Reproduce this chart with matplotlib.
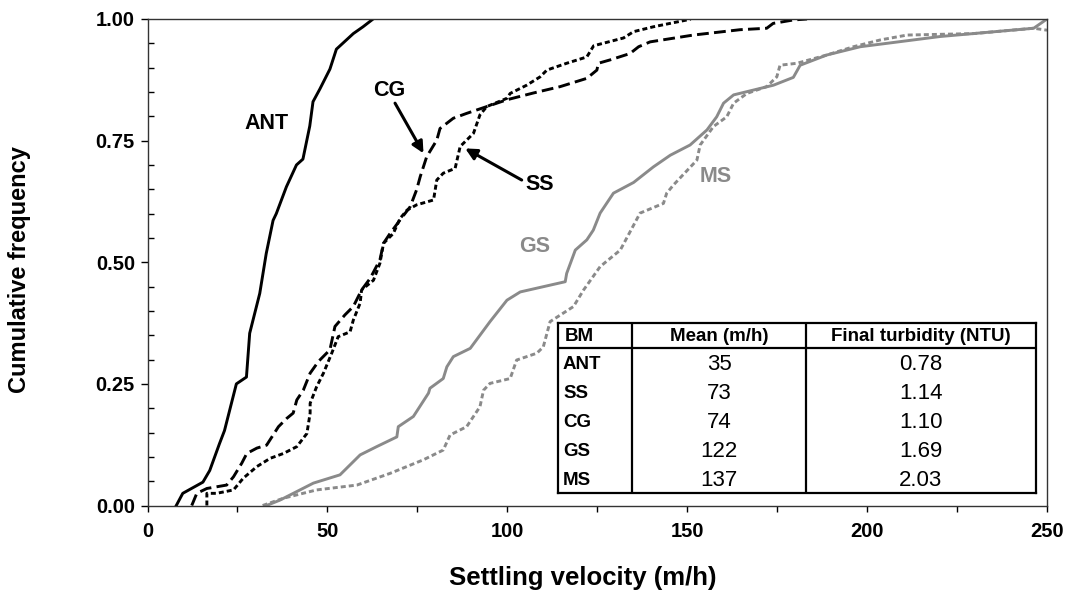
import matplotlib
matplotlib.use("Agg")
import matplotlib.pyplot as plt
from matplotlib.ticker import MultipleLocator, FormatStrFormatter

plt.rcParams['font.family'] = ['Liberation Sans', 'DejaVu Sans']
plt.rcParams['lines.scale_dashes'] = False

# ---------------- data ----------------
ant_x = [8.0, 9.8, 15.4, 17.3, 20.0, 21.4, 24.7, 27.5, 28.4, 31.2, 33.0, 34.9, 35.8, 38.6,
         41.4, 43.2, 45.1, 46.0, 47.9, 50.7, 52.5, 57.2, 59.9, 62.7]
ant_y = [0, 0.025, 0.048, 0.072, 0.127, 0.154, 0.25, 0.264, 0.354, 0.436, 0.518, 0.586, 0.60,
         0.655, 0.70, 0.712, 0.78, 0.83, 0.856, 0.897, 0.938, 0.97, 0.984, 1.0]

cg_x = [12.3, 13.7, 16.5, 22.0, 23.9, 26.2, 27.6, 30.4, 33.1, 36.4, 38.7, 40.5, 41.5, 43.3,
        45.2, 47.5, 50.7, 52.1, 54.9, 57.2, 59.5, 61.9, 64.6, 65.6, 67.4, 70.2, 73.0, 74.8,
        75.8, 77.6, 80.4, 81.3, 85.0, 88.7, 94.3, 99.9, 107.3, 114.7, 122.1, 124.9, 125.3,
        128.6, 134.1, 136.5, 139.7, 151.7, 164.7, 172.1, 173.9, 179.5, 183.3]
cg_y = [0, 0.025, 0.035, 0.042, 0.059, 0.087, 0.107, 0.118, 0.124, 0.162, 0.179, 0.190, 0.217,
        0.237, 0.272, 0.296, 0.320, 0.368, 0.392, 0.409, 0.443, 0.467, 0.505, 0.539, 0.559,
        0.587, 0.614, 0.649, 0.676, 0.717, 0.751, 0.775, 0.796, 0.806, 0.820, 0.834, 0.848,
        0.861, 0.878, 0.895, 0.909, 0.916, 0.929, 0.943, 0.953, 0.967, 0.978, 0.981, 0.991,
        0.998, 1.0]

ss_x = [16.5, 16.5, 19.2, 23.9, 26.6, 30.4, 34.1, 37.8, 41.5, 44.3, 45.2, 45.2, 47.0, 48.9,
        51.2, 53.0, 56.3, 57.2, 59.1, 59.5, 62.8, 64.6, 65.6, 68.3, 70.2, 72.1, 74.8, 79.5,
        80.4, 82.2, 85.5, 86.9, 88.7, 90.6, 92.4, 94.3, 99.9, 100.8, 105.4, 109.1, 111.0,
        116.5, 122.1, 124.0, 132.3, 135.1, 140.6, 149.9, 151.0]
ss_y = [0, 0.025, 0.025, 0.032, 0.056, 0.080, 0.097, 0.107, 0.121, 0.148, 0.190, 0.210, 0.244,
        0.272, 0.313, 0.347, 0.357, 0.381, 0.416, 0.443, 0.463, 0.498, 0.539, 0.559, 0.590,
        0.607, 0.618, 0.628, 0.669, 0.683, 0.693, 0.738, 0.751, 0.765, 0.803, 0.820, 0.837,
        0.847, 0.864, 0.881, 0.895, 0.909, 0.922, 0.945, 0.961, 0.974, 0.984, 0.998, 1.0]

gs_x = [33.1, 36.8, 46.1, 53.5, 59.1, 63.7, 69.3, 69.7, 73.9, 78.1, 78.5, 82.2, 83.2, 85.0,
        89.7, 95.2, 99.9, 103.6, 116.1, 116.5, 118.9, 122.1, 123.9, 125.8, 129.5, 135.1,
        140.6, 145.3, 150.8, 155.5, 158.2, 160.1, 162.9, 174.0, 179.5, 181.4, 188.8, 198.1,
        220.3, 246.3, 250.0]
gs_y = [0, 0.011, 0.046, 0.063, 0.104, 0.121, 0.141, 0.162, 0.183, 0.231, 0.241, 0.261, 0.285,
        0.306, 0.323, 0.378, 0.422, 0.439, 0.460, 0.477, 0.525, 0.546, 0.566, 0.601, 0.642,
        0.664, 0.696, 0.720, 0.741, 0.772, 0.799, 0.827, 0.844, 0.864, 0.880, 0.905, 0.926,
        0.943, 0.964, 0.981, 1.0]

ms_x = [32.0, 37.8, 47.0, 58.2, 67.4, 76.7, 82.2, 84.1, 88.7, 92.4, 93.4, 95.2, 100.8, 102.6,
        108.2, 110.0, 111.9, 118.4, 121.2, 125.8, 131.4, 136.9, 143.4, 144.3, 146.2, 152.7,
        153.6, 157.3, 161.0, 162.9, 166.6, 172.1, 174.9, 175.8, 180.5, 188.8, 196.2, 203.7,
        211.1, 229.6, 246.3, 250.0]
ms_y = [0, 0.015, 0.032, 0.042, 0.066, 0.094, 0.114, 0.145, 0.162, 0.203, 0.237, 0.251, 0.261,
        0.299, 0.313, 0.326, 0.378, 0.409, 0.443, 0.491, 0.525, 0.601, 0.621, 0.642, 0.659,
        0.710, 0.741, 0.779, 0.799, 0.827, 0.847, 0.861, 0.881, 0.905, 0.909, 0.926, 0.943,
        0.957, 0.967, 0.970, 0.981, 0.977]

table_header = ["BM", "Mean (m/h)", "Final turbidity (NTU)"]
table_bm = ["ANT", "SS", "CG", "GS", "MS"]
table_mean = ["35", "73", "74", "122", "137"]
table_turb = ["0.78", "1.14", "1.10", "1.69", "2.03"]

# ---------------- figure ----------------
W, H = 1069, 597
fig = plt.figure(figsize=(W / 100, H / 100), dpi=100)

def fr(x0, y0, x1, y1):
    return [x0 / W, 1 - y1 / H, (x1 - x0) / W, (y1 - y0) / H]

ax = fig.add_axes(fr(147.5, 19, 1047, 505.5))
GRAY = '#8a8a8a'
LW = 2.1

ax.plot(ant_x, ant_y, color='black', lw=LW, solid_joinstyle='round')
ax.plot(cg_x, cg_y, color='black', lw=LW, dashes=(8.5, 3.8))
ax.plot(ss_x, ss_y, color='black', lw=LW, dashes=(3.6, 2.2))
ax.plot(gs_x, gs_y, color=GRAY, lw=LW)
ax.plot(ms_x, ms_y, color=GRAY, lw=LW, dashes=(3.6, 2.2))

ax.set_xlim(0, 250)
ax.set_ylim(0, 1)
ax.xaxis.set_major_locator(MultipleLocator(50))
ax.xaxis.set_minor_locator(MultipleLocator(25))
ax.yaxis.set_major_locator(MultipleLocator(0.25))
ax.yaxis.set_minor_locator(MultipleLocator(0.05))
ax.yaxis.set_major_formatter(FormatStrFormatter('%.2f'))
ax.tick_params(axis='x', which='both', direction='out', length=4, width=1, pad=8)
ax.tick_params(axis='y', which='major', direction='out', length=5, width=1, pad=4)
ax.tick_params(axis='y', which='minor', direction='in', length=4, width=1)
for lab in ax.get_xticklabels() + ax.get_yticklabels():
    lab.set_fontweight('bold')
    lab.set_fontsize(14.5)
for sp in ax.spines.values():
    sp.set_linewidth(1.0)
    sp.set_color('#333333')

ax.set_xlabel("Settling velocity (m/h)", fontsize=18.5, fontweight='bold')
ax.xaxis.label.set_va('center')
ax.xaxis.set_label_coords((583 - 147.5) / 899.5, (505.5 - 578) / 486.5)
ax.set_ylabel("Cumulative frequency", fontsize=17, fontweight='bold')
ax.yaxis.label.set_va('center')
ax.yaxis.set_label_coords((20 - 147.5) / 899.5, 0.484)

# curve labels
ax.text(33.2, 0.786, "ANT", fontsize=15.5, fontweight='bold', ha='center', va='center')
ax.text(67.2, 0.854, "CG", fontsize=15.5, fontweight='bold', ha='center', va='center')
ax.text(109.1, 0.659, "SS", fontsize=15.5, fontweight='bold', ha='center', va='center')
ax.text(107.7, 0.532, "GS", fontsize=15.5, fontweight='bold', ha='center', va='center', color=GRAY)
ax.text(157.8, 0.676, "MS", fontsize=15.5, fontweight='bold', ha='center', va='center', color=GRAY)
arrow = dict(arrowstyle='-|>', lw=2.2, color='black', mutation_scale=17, shrinkA=0, shrinkB=0)
ax.annotate("", xy=(76.7, 0.724), xytext=(68.8, 0.827), arrowprops=arrow)
ax.annotate("", xy=(88.3, 0.734), xytext=(104.0, 0.669), arrowprops=arrow)

# ---------------- table ----------------
tl, tt, tr, tb = 558, 323.3, 1036, 493.3
tax = fig.add_axes(fr(tl, tt, tr, tb))
tax.set_xlim(tl, tr)
tax.set_ylim(tb, tt)
tax.set_xticks([])
tax.set_yticks([])
tax.set_facecolor('white')
for sp in tax.spines.values():
    sp.set_linewidth(1.6)
    sp.set_color('black')
col_edges = [558, 632.3, 805.7, 1036]
header_bottom = 348.3
tax.plot([tl, tr], [header_bottom, header_bottom], color='black', lw=1.6)
for cx in col_edges[1:-1]:
    tax.plot([cx, cx], [tt, tb], color='black', lw=1.6)

hy = (tt + header_bottom) / 2 + 1
tax.text(565, hy, table_header[0], fontsize=13.5, fontweight='bold', ha='left', va='center')
tax.text((col_edges[1] + col_edges[2]) / 2, hy, table_header[1], fontsize=13.5,
         fontweight='bold', ha='center', va='center')
tax.text((col_edges[2] + col_edges[3]) / 2, hy, table_header[2], fontsize=13.5,
         fontweight='bold', ha='center', va='center')
row_h = (tb - header_bottom) / len(table_bm)
for i, (bm, mn, tu) in enumerate(zip(table_bm, table_mean, table_turb)):
    ry = header_bottom + row_h * (i + 0.55)
    tax.text(563, ry, bm, fontsize=13.5, fontweight='bold', ha='left', va='center')
    tax.text((col_edges[1] + col_edges[2]) / 2, ry, mn, fontsize=16, ha='center', va='center')
    tax.text((col_edges[2] + col_edges[3]) / 2, ry, tu, fontsize=16, ha='center', va='center')

fig.savefig("out.png", dpi=100)
